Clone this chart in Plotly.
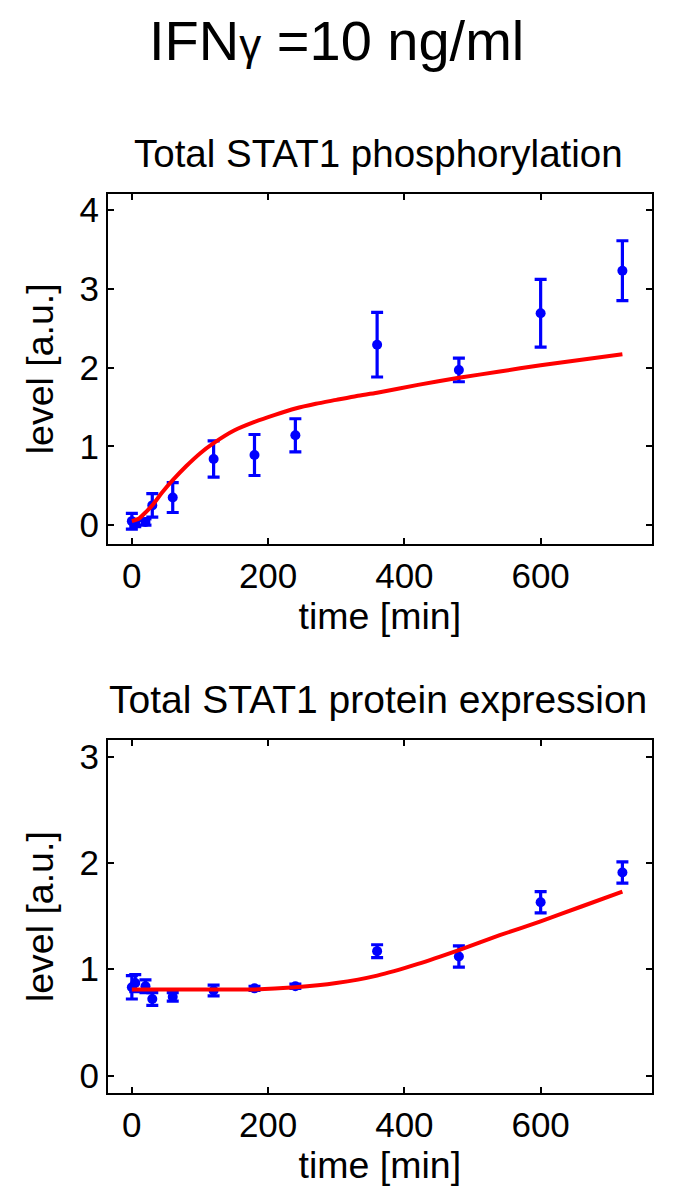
import plotly.graph_objects as go

# ---- data ----
time_points = [0, 5, 20, 30, 60, 120, 180, 240, 360, 480, 600, 720]

phos_mean = [0.05, 0.02, 0.04, 0.25, 0.35, 0.84, 0.89, 1.14, 2.29, 1.97, 2.69, 3.23]
phos_err = [0.10, 0.04, 0.04, 0.15, 0.19, 0.23, 0.26, 0.21, 0.41, 0.15, 0.43, 0.38]

model_t_phos = [0, 10, 20, 30, 45, 60, 80, 100, 120, 150, 180, 210, 240, 270, 300, 330, 360, 420, 480, 540, 600, 660, 720]
model_phos = [0.05, 0.08, 0.16, 0.25, 0.42, 0.57, 0.75, 0.91, 1.04, 1.20, 1.31, 1.40, 1.48, 1.54, 1.59, 1.64, 1.68, 1.78, 1.87, 1.95, 2.03, 2.10, 2.17]

prot_mean = [0.83, 0.87, 0.84, 0.72, 0.74, 0.80, 0.82, 0.84, 1.17, 1.12, 1.63, 1.91]
prot_err = [0.11, 0.08, 0.06, 0.06, 0.04, 0.05, 0.02, 0.02, 0.06, 0.10, 0.10, 0.10]

model_t_prot = [0, 60, 120, 180, 240, 300, 360, 420, 480, 540, 600, 660, 720]
model_prot = [0.81, 0.81, 0.81, 0.81, 0.83, 0.87, 0.94, 1.05, 1.18, 1.32, 1.45, 1.59, 1.73]

x_ticks = [0, 200, 400, 600]
y_ticks_top = [0, 1, 2, 3, 4]
y_ticks_bot = [0, 1, 2, 3]

main_title = 'IFN<span style="font-size:44px">γ</span> =10 ng/ml'
title_top = "Total STAT1 phosphorylation"
title_bot = "Total STAT1 protein expression"
x_label = "time [min]"
y_label = "level [a.u.]"

# ---- figure ----
# page body has an 8px margin, so the figure is drawn 8px smaller and
# all pixel positions below are page positions minus 8
OFF = 8
W, H = 685 - OFF, 1197 - OFF
FONT = "Liberation Sans, Arial, sans-serif"
BLUE = "#0000ff"
RED = "#ff0000"


def px(X):
    return (X - OFF) / W


def py(Y):
    return 1 - (Y - OFF) / H


fig = go.Figure()

for xa, ya, mean, err, mt, mv in [
    ("x", "y", phos_mean, phos_err, model_t_phos, model_phos),
    ("x2", "y2", prot_mean, prot_err, model_t_prot, model_prot),
]:
    fig.add_trace(go.Scatter(
        x=time_points, y=mean, mode="markers",
        marker=dict(color=BLUE, size=10),
        error_y=dict(type="data", array=err, color=BLUE, thickness=3.2, width=6),
        xaxis=xa, yaxis=ya, showlegend=False, hoverinfo="skip"))
    fig.add_trace(go.Scatter(
        x=mt, y=mv, mode="lines",
        line=dict(color=RED, width=4, shape="spline", smoothing=0.6),
        xaxis=xa, yaxis=ya, showlegend=False, hoverinfo="skip"))

x_dom = [px(108), px(651.7)]
top_dom = [py(544), py(193.5)]
bot_dom = [py(1093.3), py(740)]

axis_common = dict(
    showline=True, linecolor="black", linewidth=2, mirror="allticks",
    ticks="inside", ticklen=6, tickwidth=1.5, tickcolor="black",
    showgrid=False, zeroline=False,
    tickfont=dict(family=FONT, size=35, color="black"),
    automargin=False,
)

fig.update_layout(
    width=W, height=H,
    margin=dict(l=0, r=0, t=0, b=0),
    paper_bgcolor="white", plot_bgcolor="white",
    font=dict(family=FONT, color="black"),
    xaxis=dict(domain=x_dom, anchor="y", range=[-35, 763], tickvals=x_ticks,
               title=dict(text=x_label, font=dict(family=FONT, size=37.5), standoff=8),
               **axis_common),
    yaxis=dict(domain=top_dom, anchor="x", range=[-0.24, 4.21], tickvals=y_ticks_top,
               title=dict(text=y_label, font=dict(family=FONT, size=37.5), standoff=14),
               **axis_common),
    xaxis2=dict(domain=x_dom, anchor="y2", range=[-35, 763], tickvals=x_ticks,
                title=dict(text=x_label, font=dict(family=FONT, size=37.5), standoff=8),
                **axis_common),
    yaxis2=dict(domain=bot_dom, anchor="x2", range=[-0.167, 3.156], tickvals=y_ticks_bot,
                title=dict(text=y_label, font=dict(family=FONT, size=37.5), standoff=14),
                **axis_common),
    annotations=[
        dict(text=main_title, x=px(336), y=py(40.6), xref="paper", yref="paper",
             xanchor="center", yanchor="middle", showarrow=False,
             font=dict(family=FONT, size=56, color="black")),
        dict(text=title_top, x=px(378), y=py(153.4), xref="paper", yref="paper",
             xanchor="center", yanchor="middle", showarrow=False,
             font=dict(family=FONT, size=38.5, color="black")),
        dict(text=title_bot, x=px(378), y=py(699.7), xref="paper", yref="paper",
             xanchor="center", yanchor="middle", showarrow=False,
             font=dict(family=FONT, size=39, color="black")),
    ],
)

fig.write_html("out.html")
